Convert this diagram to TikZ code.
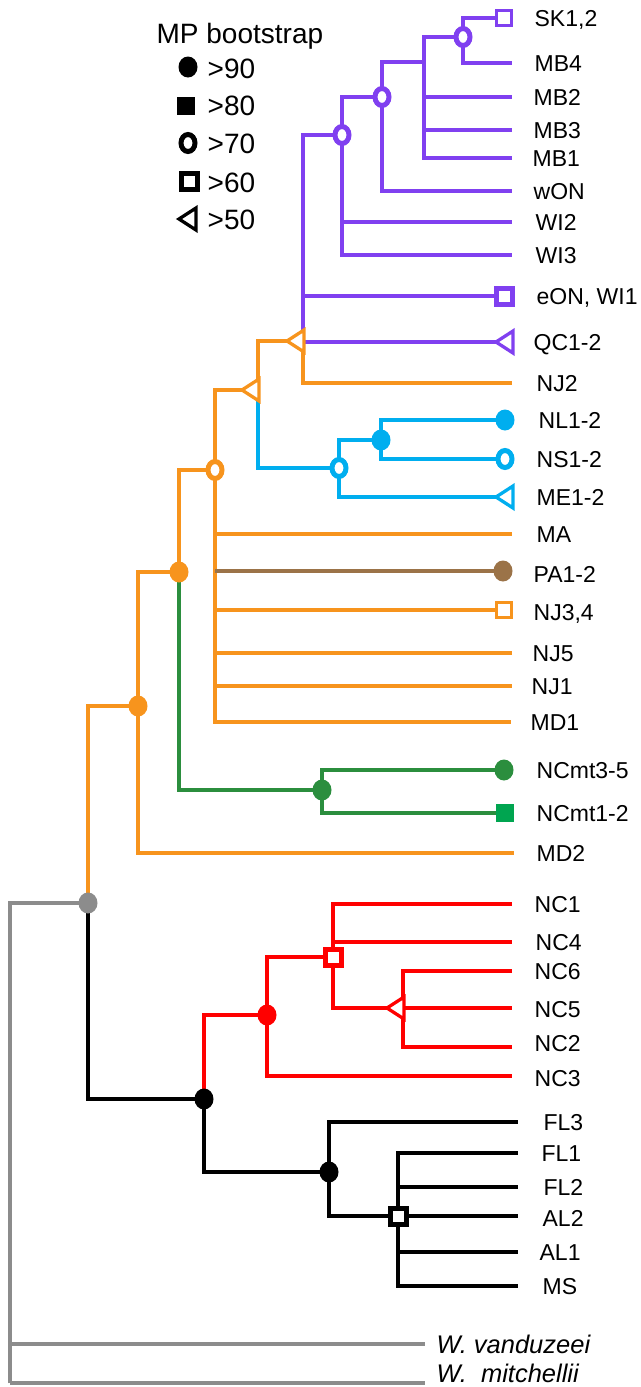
\documentclass[tikz,border=0pt]{standalone}
\usepackage{fontspec}
\setmainfont{Liberation Sans}
\definecolor{cPur}{RGB}{128,64,240}
\definecolor{cOra}{RGB}{247,148,29}
\definecolor{cBlu}{RGB}{0,174,239}
\definecolor{cBro}{RGB}{155,115,72}
\definecolor{cGrn}{RGB}{43,142,62}
\definecolor{cGrB}{RGB}{0,165,80}
\definecolor{cRed}{RGB}{255,0,0}
\definecolor{cGry}{RGB}{140,140,140}
\begin{document}
\begin{tikzpicture}[x=1pt,y=-1pt,line width=3.3pt,line join=miter,
  lab/.style={anchor=base west,inner sep=0pt,font=\fontsize{23}{27}\selectfont},
  ilab/.style={anchor=base west,inner sep=0pt,font=\fontsize{25.5}{30}\selectfont\itshape},
  leg/.style={anchor=base west,inner sep=0pt,font=\fontsize{28}{32}\selectfont},
  mtri/.pic={\draw[fill=white,line width=3.3pt,line join=miter] (0,-11) -- (0,11) -- (-17,0) -- cycle;},
  mell/.pic={\draw[fill=white,line width=5pt] (0,0) ellipse [x radius=7, y radius=8.5];},
  mdot/.pic={\fill (0,0) ellipse [x radius=9.5, y radius=10.5];},
  msq/.pic={\draw[fill=white,line width=5pt] (-8,-8) rectangle (8,8);},
  msqt/.pic={\draw[fill=white,line width=3.3pt] (-7.5,-7.5) rectangle (7.5,7.5);},
  mfsq/.pic={\fill (-9,-9) rectangle (9,9);}
]
\useasboundingbox (0,0) rectangle (640,1387);

% ---------- junctions ----------
\coordinate (p1) at (463,37);
\coordinate (p2) at (424,62);
\coordinate (p3) at (382,97);
\coordinate (p4) at (342,135);
\coordinate (p5) at (303,341);
\coordinate (o1) at (258,390);
\coordinate (b1) at (339,468);
\coordinate (b2) at (381,440);
\coordinate (o2) at (215,470);
\coordinate (o3) at (179,572);
\coordinate (g1) at (322,790);
\coordinate (o4) at (138,706);
\coordinate (rt) at (88,903);
\coordinate (k1) at (204,1099);
\coordinate (r1) at (267,1015);
\coordinate (r2) at (333,957);
\coordinate (r3) at (403,1008);
\coordinate (k2) at (329,1172);
\coordinate (k3) at (398,1216);
\coordinate (og) at (10,1383);

% ---------- tips ----------
\coordinate (tSK) at (512,18);
\coordinate (tMB4) at (512,63);
\coordinate (tMB2) at (512,97);
\coordinate (tMB3) at (512,130);
\coordinate (tMB1) at (512,158);
\coordinate (twON) at (512,191);
\coordinate (tWI2) at (512,222);
\coordinate (tWI3) at (512,255);
\coordinate (teON) at (512,296);
\coordinate (tQC) at (512,342);
\coordinate (tNJ2) at (512,383);
\coordinate (tNL) at (512,420);
\coordinate (tNS) at (512,459);
\coordinate (tME) at (512,497);
\coordinate (tMA) at (512,534);
\coordinate (tPA) at (512,571);
\coordinate (tNJ34) at (512,610);
\coordinate (tNJ5) at (512,653);
\coordinate (tNJ1) at (512,686);
\coordinate (tMD1) at (511,722);
\coordinate (tNC35) at (512,770);
\coordinate (tNC12) at (512,813);
\coordinate (tMD2) at (514,853);
\coordinate (tNC1) at (512,904);
\coordinate (tNC4) at (512,942);
\coordinate (tNC6) at (512,971);
\coordinate (tNC5) at (512,1008);
\coordinate (tNC2) at (512,1047);
\coordinate (tNC3) at (512,1076);
\coordinate (tFL3) at (518,1122);
\coordinate (tFL1) at (518,1153);
\coordinate (tFL2) at (518,1187);
\coordinate (tAL2) at (518,1216);
\coordinate (tAL1) at (518,1252);
\coordinate (tMS) at (518,1286);
\coordinate (tvan) at (425,1344);
\coordinate (tmit) at (425,1383);

% ---------- branches ----------
\begin{scope}[draw=cPur]
\draw (p1) |- (tSK); \draw (p1) |- (tMB4);
\draw (p2) |- (p1); \draw (p2) |- (tMB2); \draw (p2) |- (tMB3); \draw (p2) |- (tMB1);
\draw (p3) |- (p2); \draw (p3) |- (twON);
\draw (p4) |- (p3); \draw (p4) |- (tWI2); \draw (p4) |- (tWI3);
\draw (p5) |- (p4); \draw (p5) |- (teON); \draw (p5) |- (tQC);
\end{scope}
\begin{scope}[draw=cOra]
\draw (p5) |- (tNJ2); \draw (o1) |- (p5);
\draw (o2) |- (o1); \draw (o2) |- (tMA); \draw (o2) |- (tNJ34);
\draw (o2) |- (tNJ5); \draw (o2) |- (tNJ1); \draw (o2) |- (tMD1);
\draw (o3) |- (o2); \draw (o4) |- (o3); \draw (o4) |- (tMD2); \draw (rt) |- (o4);
\end{scope}
\begin{scope}[draw=cBlu]
\draw (o1) |- (b1); \draw (b1) |- (b2); \draw (b1) |- (tME);
\draw (b2) |- (tNL); \draw (b2) |- (tNS);
\end{scope}
\draw[cBro] (o2 |- tPA) -- (tPA);
\begin{scope}[draw=cGrn]
\draw (o3) |- (g1); \draw (g1) |- (tNC35); \draw (g1) |- (tNC12);
\end{scope}
\begin{scope}[draw=cRed]
\draw (k1) |- (r1); \draw (r1) |- (r2); \draw (r1) |- (tNC3);
\draw (r2) |- (tNC1); \draw (r2) |- (tNC4); \draw (r2) |- (r3);
\draw (r3) |- (tNC6); \draw (r3) |- (tNC5); \draw (r3) |- (tNC2);
\end{scope}
\begin{scope}[draw=black]
\draw (rt) |- (k1); \draw (k1) |- (k2); \draw (k2) |- (tFL3); \draw (k2) |- (k3);
\draw (k3) |- (tFL1); \draw (k3) |- (tFL2); \draw (k3) |- (tAL2);
\draw (k3) |- (tAL1); \draw (k3) |- (tMS);
\end{scope}
\begin{scope}[draw=cGry]
\draw (og) |- (rt); \draw (og) |- (tvan); \draw (og) -- (tmit);
\end{scope}

% ---------- support markers ----------
\pic[cPur] at (p1) {mell};
\pic[cPur] at (p3) {mell};
\pic[cPur] at (p4) {mell};
\pic[cOra] at (304,341) {mtri};
\pic[cOra] at (259,390) {mtri};
\pic[cBlu] at (b1) {mell};
\pic[cBlu] at (b2) {mdot};
\pic[cOra] at (o2) {mell};
\pic[cOra] at (o3) {mdot};
\pic[cOra] at (o4) {mdot};
\pic[cGry] at (rt) {mdot};
\pic[cGrn] at (g1) {mdot};
\pic[black] at (k1) {mdot};
\pic[black] at (k2) {mdot};
\pic[black] at (k3) {msq};
\pic[cRed] at (r1) {mdot};
\pic[cRed] at (r2) {msq};
\pic[cRed] at (404,1008) {mtri};
% tip markers
\pic[cPur] at (504,18) {msqt};
\pic[cPur] at (504,296) {msq};
\pic[cPur] at (513,342) {mtri};
\pic[cBlu] at (505,420) {mdot};
\pic[cBlu] at (505,459) {mell};
\pic[cBlu] at (513,497) {mtri};
\pic[cBro] at (503,571) {mdot};
\pic[cOra] at (504,610) {msqt};
\pic[cGrn] at (504,770) {mdot};
\pic[cGrB] at (505,813) {mfsq};

% ---------- labels ----------
\node[lab] (lSK) at (533,26) {SK1,2};
\node[lab] (lMB4) at (533,71) {MB4};
\node[lab] (lMB2) at (532,105) {MB2};
\node[lab] (lMB3) at (532,138) {MB3};
\node[lab] (lMB1) at (531,166) {MB1};
\node[lab] (lwON) at (532,199) {wON};
\node[lab] (lWI2) at (534,230) {WI2};
\node[lab] (lWI3) at (534,263) {WI3};
\node[lab] (leON) at (535,304) {eON, WI1};
\node[lab] (lQC) at (532,350) {QC1-2};
\node[lab] (lNJ2) at (535,391) {NJ2};
\node[lab] (lNL) at (537,428) {NL1-2};
\node[lab] (lNS) at (535,467) {NS1-2};
\node[lab] (lME) at (535,505) {ME1-2};
\node[lab] (lMA) at (535,542) {MA};
\node[lab] (lPA) at (532,582) {PA1-2};
\node[lab] (lNJ34) at (532,620) {NJ3,4};
\node[lab] (lNJ5) at (531,661) {NJ5};
\node[lab] (lNJ1) at (530,694) {NJ1};
\node[lab] (lMD1) at (529,730) {MD1};
\node[lab] (lNC35) at (535,778) {NCmt3-5};
\node[lab] (lNC12) at (535,821) {NCmt1-2};
\node[lab] (lMD2) at (535,861) {MD2};
\node[lab] (lNC1) at (533,912) {NC1};
\node[lab] (lNC4) at (534,950) {NC4};
\node[lab] (lNC6) at (533,979) {NC6};
\node[lab] (lNC5) at (533,1017) {NC5};
\node[lab] (lNC2) at (533,1051) {NC2};
\node[lab] (lNC3) at (533,1086) {NC3};
\node[lab] (lFL3) at (542,1130) {FL3};
\node[lab] (lFL1) at (540,1161) {FL1};
\node[lab] (lFL2) at (542,1195) {FL2};
\node[lab] (lAL2) at (541,1226) {AL2};
\node[lab] (lAL1) at (538,1260) {AL1};
\node[lab] (lMS) at (541,1294) {MS};
\node[ilab] (lvan) at (435,1353) {W. vanduzeei};
\node[ilab] (lmit) at (435,1382) {W.\ \ mitchellii};

% ---------- legend ----------
\node[leg] (ltitle) at (155,43) {MP bootstrap};
\pic[black] at (188,67) {mdot};
\node[leg] (l90) at (206,78) {>90};
\pic[black] at (186,106) {mfsq};
\node[leg] (l80) at (206,115) {>80};
\pic[black] at (188,143) {mell};
\node[leg] (l70) at (206,153) {>70};
\pic[black] at (189,181) {msq};
\node[leg] (l60) at (206,192) {>60};
\pic[black] at (196,219) {mtri};
\node[leg] (l50) at (206,229) {>50};
\end{tikzpicture}
\end{document}
